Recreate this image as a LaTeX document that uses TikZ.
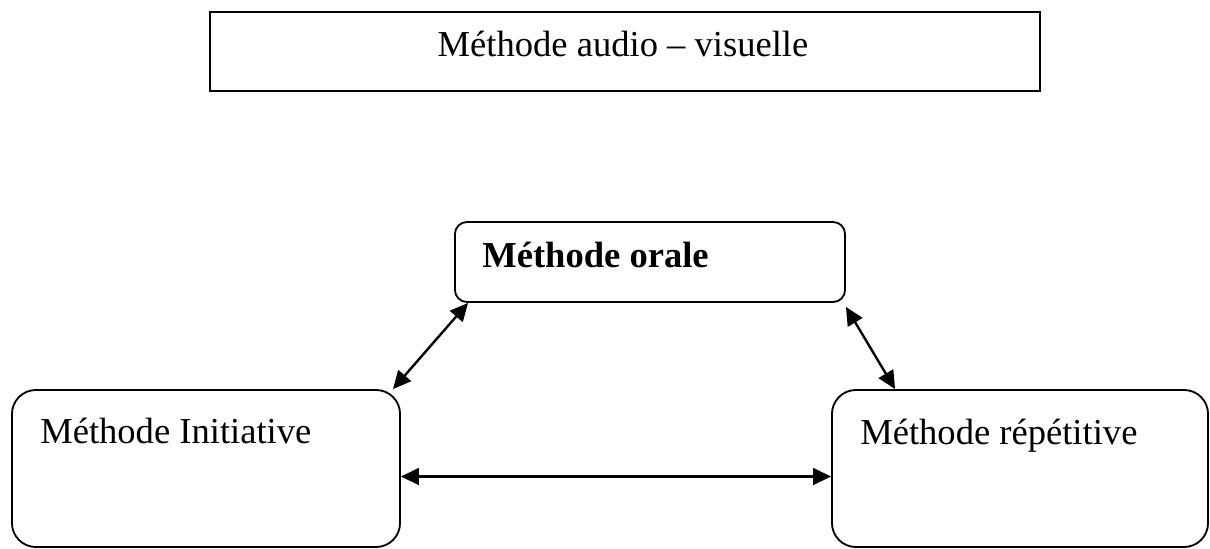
\documentclass[tikz,border=0pt]{standalone}
\usepackage{fontspec}
\setmainfont{Liberation Serif}
\usetikzlibrary{arrows.meta}
\begin{document}
\begin{tikzpicture}[
        x=0.025cm, y=-0.025cm,
        box/.style={draw, line width=1.3pt, inner sep=0pt},
        roundbox/.style={box, rounded corners=0.3cm},
        bigbox/.style={box, rounded corners=0.6cm},
        label/.style={anchor=base west, inner sep=0pt, font=\fontsize{26}{31}\selectfont},
        link/.style={{Triangle[length=0.45cm,width=0.42cm]}-{Triangle[length=0.45cm,width=0.42cm]}, line width=1.7pt}
    ]
        \useasboundingbox (0,0) rectangle (1210,548);

        % Les boites
        \node[box, minimum width=20.75cm, minimum height=1.975cm] (audio) at (625,51.5) {};
        \node[roundbox, minimum width=9.75cm, minimum height=2cm] (orale) at (650,262) {};
        \node[bigbox, minimum width=9.7cm, minimum height=3.925cm] (initiative) at (206,468.5) {};
        \node[bigbox, minimum width=9.4cm, minimum height=3.925cm] (repetitive) at (1020,468.5) {};

        % Les textes
        \node[label, anchor=base] (taudio) at (623,56) {Méthode audio – visuelle};
        \node[label] (torale) at (482,267) {\bfseries Méthode orale};
        \node[label] (tinitiative) at (40,443) {Méthode Initiative};
        \node[label] (trepetitive) at (860,444) {Méthode répétitive};

        % Les liens
        \draw[link] ([xshift=-0.2cm]initiative.north east) -- ([xshift=0.35cm]orale.south west);
        \draw[link] ([yshift=-0.1cm]orale.south east) -- ([xshift=1.6cm]repetitive.north west);
        \draw[link] ([yshift=-0.2cm]initiative.east) -- ([yshift=-0.2cm]repetitive.west);
    \end{tikzpicture}
\end{document}
